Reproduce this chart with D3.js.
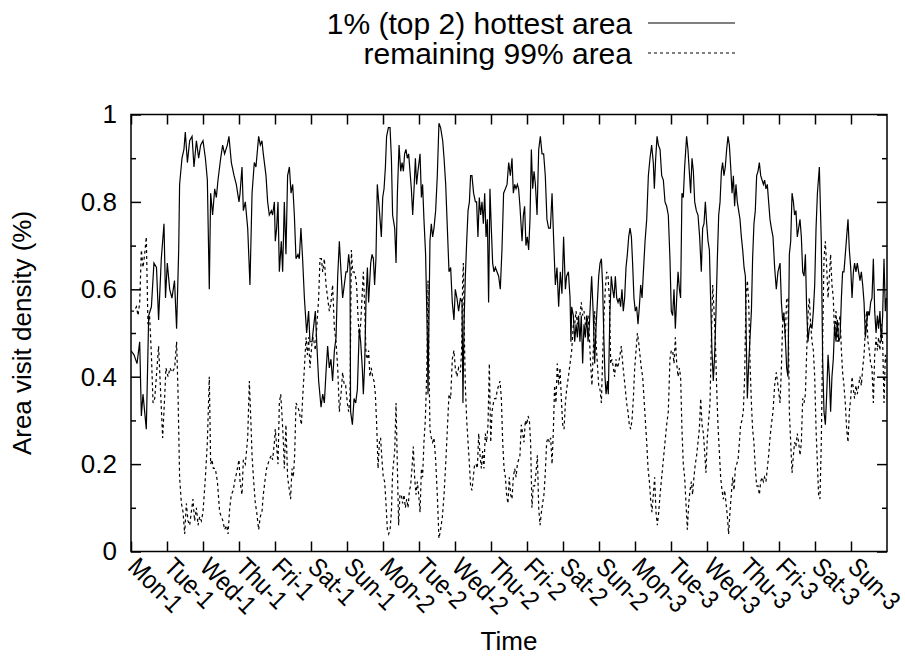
<!DOCTYPE html>
<html>
<head>
<meta charset="utf-8">
<script src="https://cdn.jsdelivr.net/npm/d3@7"></script>
<style>
  body { margin: 0; background: #fff; }
  svg { display: block; }
  text { font-family: "Liberation Sans", Arial, Helvetica, sans-serif; fill: #000; }
</style>
</head>
<body>
<svg width="905" height="656"></svg>
<script>
// day labels, one per 24 h tick
const dayLabels = ['Mon-1','Tue-1','Wed-1','Thu-1','Fri-1','Sat-1','Sun-1',
  'Mon-2','Tue-2','Wed-2','Thu-2','Fri-2','Sat-2','Sun-2',
  'Mon-3','Tue-3','Wed-3','Thu-3','Fri-3','Sat-3','Sun-3'];
const yTicks = [0, 0.2, 0.4, 0.6, 0.8, 1];
const seriesNames = ['1% (top 2) hottest area', 'remaining 99% area'];

// [hour, density]
const hottest = [
  [0,0.46],[2,0.45],[4,0.43],[5.8,0.48],[6.9,0.31],[8,0.36],[10.2,0.28],[11.8,0.54],[13.6,0.56],[15.3,0.66],[17,0.65],[18.4,0.53],[20.2,0.67],[22,0.75],[23,0.58],
  [24.2,0.66],[25.8,0.60],[27.3,0.58],[29,0.62],[30.4,0.51],[31.8,0.69],[32.4,0.84],[34,0.90],[35.3,0.92],[36.2,0.96],[37.6,0.89],[39.1,0.94],[40.7,0.95],[42,0.88],[43.6,0.94],[45.1,0.90],[46.4,0.93],
  [48,0.94],[49.6,0.90],[50.9,0.85],[52.2,0.60],[53.1,0.82],[54.4,0.77],[55.8,0.83],[56.9,0.81],[58,0.85],[59.8,0.90],[61.1,0.93],[62.4,0.91],[64.2,0.93],[65.3,0.95],[66.9,0.89],[68.7,0.86],[70.2,0.84],
  [72,0.80],[72.7,0.82],[74,0.88],[74.9,0.78],[76.2,0.80],[77.8,0.74],[79.3,0.61],[80.7,0.82],[82.2,0.89],[83.3,0.88],[85.1,0.95],[86.2,0.93],[87.3,0.94],[88.2,0.91],[90,0.86],[91.1,0.80],[92.2,0.77],[93.6,0.78],[94.4,0.77],[95.6,0.80],
  [96.2,0.71],[97.1,0.74],[98,0.80],[98.9,0.64],[100.2,0.71],[101.1,0.64],[102.2,0.80],[103.3,0.68],[104.4,0.86],[105.6,0.88],[106.7,0.82],[107.8,0.84],[108.9,0.77],[110,0.67],[111.3,0.68],[112.2,0.67],[113.3,0.74],[114.4,0.67],[115.6,0.58],[117.1,0.50],[118.4,0.55],[119.3,0.48],
  [120.7,0.48],[121.6,0.51],[122.9,0.55],[123.8,0.48],[125.1,0.39],[126.7,0.33],[127.8,0.36],[128.9,0.34],[130,0.41],[131.1,0.47],[132.2,0.42],[133.3,0.44],[134.4,0.39],[135.6,0.46],[136.7,0.49],[137.8,0.63],[138.9,0.71],[140,0.64],[141.1,0.58],[142.2,0.61],[143.3,0.64],
  [144.2,0.64],[145.1,0.68],[146,0.65],[146.4,0.32],[147.6,0.29],[148.7,0.35],[149.8,0.34],[150.9,0.37],[152.2,0.51],[153.1,0.48],[154.2,0.42],[154.9,0.36],[155.8,0.43],[156.7,0.58],[157.6,0.65],[158.4,0.57],[159.8,0.66],[160.7,0.68],[161.6,0.67],[162.4,0.61],[163.3,0.67],[164.2,0.84],[165.6,0.78],[166.9,0.72],[167.8,0.81],
  [168.7,0.83],[169.6,0.88],[170.4,0.95],[171.6,0.97],[172.7,0.97],[173.6,0.90],[174.4,0.77],[175.8,0.74],[176.7,0.66],[177.6,0.82],[178.7,0.93],[179.8,0.87],[180.7,0.89],[181.6,0.87],[182.4,0.91],[183.3,0.92],[184.2,0.90],[185.1,0.91],[186,0.87],[186.9,0.83],[187.8,0.77],[188.7,0.83],[189.6,0.90],[190.4,0.84],[191.3,0.87],
  [192.7,0.91],[193.6,0.81],[194.4,0.84],[195.3,0.76],[196.4,0.68],[197.6,0.48],[198,0.36],[198.7,0.55],[199.3,0.71],[200.2,0.75],[201.1,0.72],[202,0.74],[203.1,0.78],[204.2,0.86],[205.3,0.98],[206.4,0.97],[207.8,0.94],[208.7,0.90],[209.8,0.84],[210.9,0.74],[212,0.64],[213.1,0.65],[214.2,0.57],[215.3,0.53],
  [216.2,0.60],[217.3,0.58],[218.4,0.55],[219.6,0.58],[220.7,0.57],[221.3,0.34],[222,0.52],[222.9,0.63],[223.8,0.71],[224.7,0.78],[225.6,0.80],[226.4,0.86],[227.3,0.86],[228.4,0.82],[229.6,0.80],[230.4,0.80],[231.3,0.72],[232.2,0.81],[233.1,0.77],[234,0.80],[234.9,0.75],[235.8,0.82],[236.7,0.72],[237.6,0.76],[238.4,0.57],[239.3,0.83],
  [240.2,0.74],[241.1,0.66],[242,0.64],[242.9,0.65],[244,0.64],[245.1,0.63],[246.2,0.60],[247.3,0.69],[248.4,0.82],[249.6,0.83],[250.7,0.84],[251.8,0.89],[252.9,0.86],[254,0.90],[254.9,0.82],[255.8,0.84],[256.7,0.83],[257.6,0.84],[258.4,0.83],[259.3,0.79],[260.7,0.71],[261.6,0.77],[262.4,0.79],[263.3,0.70],
  [264.2,0.72],[265.1,0.69],[266,0.76],[266.9,0.92],[267.8,0.83],[268.7,0.87],[269.6,0.84],[270.7,0.77],[271.8,0.92],[272.9,0.95],[274,0.91],[275.1,0.91],[276.2,0.86],[277.3,0.76],[278.4,0.74],[279.6,0.74],[280.7,0.82],[281.8,0.71],[282.9,0.61],[284,0.65],[285.1,0.56],[286.2,0.64],[287.3,0.59],
  [288.4,0.72],[289.6,0.60],[290.4,0.63],[291.6,0.64],[292.7,0.58],[293.3,0.48],[293.8,0.56],[294.9,0.54],[295.8,0.48],[296.7,0.52],[297.6,0.49],[298.4,0.54],[299.3,0.48],[300.2,0.54],[301.1,0.43],[302,0.52],[302.9,0.49],[303.8,0.54],[304.7,0.48],[305.6,0.52],[306.4,0.58],[307.1,0.63],[308.2,0.54],[309.1,0.43],[310,0.51],[310.9,0.57],[311.8,0.63],
  [312.7,0.66],[313.6,0.67],[314.4,0.61],[315.3,0.48],[316,0.40],[316.7,0.36],[317.6,0.39],[318.2,0.36],[319.3,0.55],[320.2,0.63],[321.1,0.60],[322,0.58],[322.9,0.63],[323.8,0.58],[324.7,0.57],[325.6,0.58],[326.4,0.56],[327.3,0.60],[328.2,0.55],[329.1,0.58],[330,0.65],[330.9,0.68],[331.8,0.72],[332.7,0.74],[333.6,0.72],[334.4,0.66],[335.3,0.58],
  [336.2,0.55],[337.1,0.56],[338,0.52],[338.9,0.56],[339.8,0.61],[340.7,0.58],[341.6,0.64],[342.7,0.71],[343.8,0.76],[344.9,0.86],[346,0.90],[347.1,0.93],[348.2,0.89],[348.9,0.83],[349.8,0.90],[350.7,0.95],[351.6,0.93],[352.7,0.92],[353.8,0.86],[354.9,0.85],[356,0.80],[357.1,0.79],[358.2,0.77],[359.3,0.67],
  [360.2,0.55],[361.1,0.54],[362,0.60],[362.9,0.51],[363.8,0.58],[364.7,0.64],[365.6,0.60],[366.4,0.58],[367.3,0.82],[368.2,0.81],[369.1,0.88],[370.4,0.95],[371.3,0.92],[372.2,0.87],[373.1,0.82],[374,0.90],[374.9,0.87],[375.8,0.80],[376.9,0.78],[378,0.77],[379.1,0.72],[380.2,0.64],[381.1,0.74],[382,0.75],[382.9,0.80],[383.8,0.75],
  [384.7,0.71],[385.6,0.69],[386.4,0.58],[387.3,0.46],[388.2,0.39],[389.1,0.45],[390,0.55],[390.9,0.67],[391.8,0.77],[392.7,0.80],[393.6,0.87],[394.4,0.89],[395.3,0.86],[396.2,0.88],[397.1,0.92],[398,0.95],[398.9,0.93],[399.8,0.88],[400.7,0.82],[401.6,0.86],[402.4,0.79],[403.3,0.84],[404.2,0.80],[405.1,0.78],[406,0.76],[406.9,0.72],[407.8,0.69],
  [408.7,0.65],[409.6,0.63],[410.2,0.48],[410.9,0.35],[411.8,0.43],[412.7,0.49],[413.6,0.55],[414.4,0.67],[415.3,0.75],[416.2,0.78],[417.1,0.86],[418,0.87],[418.9,0.89],[419.8,0.86],[420.7,0.85],[421.6,0.84],[422.4,0.85],[423.3,0.83],[424.2,0.84],[425.1,0.80],[426,0.76],[426.9,0.74],[428,0.72],[429.1,0.65],[430.2,0.60],[431.3,0.64],
  [432.7,0.66],[433.6,0.57],[434.4,0.53],[435.3,0.54],[436.2,0.49],[437.1,0.42],[438,0.40],[438.9,0.68],[439.8,0.71],[440.7,0.82],[441.6,0.80],[442.4,0.77],[443.3,0.78],[444.2,0.72],[445.1,0.74],[446,0.76],[446.9,0.72],[447.8,0.64],[448.7,0.63],[449.6,0.68],[450.4,0.56],[451.3,0.48],[452.2,0.51],[453.1,0.52],[454,0.51],[454.9,0.55],[455.8,0.61],
  [456.7,0.74],[457.6,0.82],[458.9,0.88],[460.2,0.71],[461.1,0.44],[462,0.32],[462.9,0.29],[463.8,0.36],[464.7,0.45],[465.6,0.40],[466.4,0.32],[467.3,0.40],[468.2,0.44],[469.1,0.52],[470,0.48],[470.9,0.53],[471.8,0.48],[472.7,0.49],[473.6,0.58],[474.4,0.64],[475.3,0.64],[476.2,0.68],[477.1,0.72],[478,0.76],[478.9,0.69],[479.8,0.65],
  [480.7,0.58],[481.6,0.64],[482.4,0.66],[483.3,0.64],[484.2,0.66],[485.1,0.64],[486,0.62],[486.9,0.64],[487.8,0.61],[488.7,0.57],[489.6,0.49],[490.4,0.52],[491.3,0.55],[492.2,0.54],[493.1,0.57],[494,0.58],[494.9,0.67],[495.8,0.55],[496.7,0.50],[497.6,0.54],[498.4,0.51],[499.3,0.55],[500.2,0.48],[501.1,0.54],[502,0.67],[502.9,0.55],[503.6,0.58]
];

const remaining = [
  [0,0.55],[2,0.55],[3.6,0.56],[4.7,0.54],[5.8,0.57],[6.9,0.69],[8,0.65],[9.1,0.68],[10.2,0.72],[11.3,0.52],[12.4,0.54],[13.6,0.45],[14.7,0.34],[15.8,0.35],[16.9,0.40],[18.4,0.47],[19.8,0.36],[21.1,0.26],[22.4,0.35],[23.3,0.42],
  [24.7,0.40],[26,0.42],[27.3,0.41],[29.1,0.42],[30.4,0.48],[31.3,0.37],[32.4,0.17],[33.6,0.11],[34.7,0.09],[35.8,0.04],[36.9,0.11],[38,0.07],[39.1,0.06],[40.2,0.09],[41.3,0.12],[42.4,0.07],[43.6,0.10],[44.7,0.06],[45.8,0.08],[46.9,0.07],
  [48,0.09],[49.6,0.17],[50.9,0.25],[52.2,0.40],[53.1,0.20],[54,0.21],[54.9,0.19],[56.2,0.19],[57.6,0.16],[59.1,0.09],[60.2,0.08],[61.3,0.07],[62.4,0.05],[63.8,0.06],[64.7,0.04],[65.8,0.10],[66.9,0.13],[68.2,0.14],[69.1,0.16],[70.4,0.18],
  [72,0.21],[72.7,0.16],[74,0.13],[74.9,0.21],[76.2,0.20],[77.8,0.26],[78.9,0.39],[80,0.29],[80.7,0.22],[81.6,0.17],[82.9,0.11],[83.8,0.09],[85.1,0.05],[86.2,0.08],[87.3,0.09],[88.2,0.13],[89.6,0.17],[90.4,0.19],[91.3,0.20],[92.2,0.21],[93.6,0.22],[94.4,0.21],[95.6,0.25],
  [96.2,0.28],[97.1,0.24],[98,0.20],[98.9,0.34],[99.8,0.36],[100.7,0.31],[101.6,0.25],[102.2,0.19],[103.3,0.29],[104.4,0.17],[105.6,0.14],[106.4,0.12],[107.3,0.19],[108.2,0.17],[109.1,0.22],[110,0.34],[111.3,0.33],[112.2,0.32],[113.6,0.29],[114.4,0.35],[115.6,0.42],[116.7,0.49],[117.6,0.45],[118.4,0.49],[119.3,0.42],
  [120.7,0.48],[121.6,0.49],[122.9,0.46],[123.8,0.51],[125.1,0.58],[126,0.67],[126.9,0.67],[127.8,0.64],[128.9,0.67],[130,0.61],[131.1,0.58],[132.2,0.55],[133.3,0.57],[134.4,0.61],[135.6,0.51],[136.7,0.48],[137.8,0.42],[138.9,0.32],[140,0.36],[141.1,0.41],[142.2,0.38],[143.1,0.38],
  [144.2,0.34],[145.1,0.32],[146,0.35],[146.9,0.69],[147.8,0.64],[148.7,0.64],[149.6,0.63],[150.4,0.61],[151.3,0.54],[152.2,0.49],[153.1,0.52],[154,0.58],[154.9,0.64],[155.8,0.56],[156.7,0.45],[157.6,0.44],[158.4,0.46],[159.3,0.40],[160.2,0.42],[161.1,0.40],[162,0.39],[162.9,0.36],[163.8,0.29],[164.7,0.19],[165.6,0.25],[166.4,0.26],[167.3,0.21],
  [168.2,0.17],[169.1,0.16],[170,0.11],[170.9,0.05],[171.8,0.04],[172.7,0.05],[173.6,0.09],[174.4,0.18],[175.8,0.23],[176.7,0.34],[177.6,0.19],[178.4,0.06],[179.3,0.13],[180.2,0.13],[181.1,0.11],[182,0.13],[182.9,0.10],[183.8,0.12],[184.7,0.10],[185.6,0.14],[186.4,0.15],[187.3,0.19],[188.2,0.24],[189.1,0.17],[190,0.13],[190.9,0.16],[191.8,0.13],
  [192.7,0.09],[193.6,0.19],[194.4,0.17],[195.3,0.25],[196.2,0.30],[197.1,0.40],[197.6,0.50],[198,0.62],[198.7,0.42],[199.3,0.28],[200.2,0.26],[201.1,0.25],[202,0.26],[203.1,0.21],[204.2,0.13],[205.3,0.03],[206.4,0.05],[207.6,0.08],[208.7,0.13],[209.8,0.20],[210.9,0.28],[212,0.36],[213.1,0.35],[214.2,0.44],[215.3,0.46],
  [216.2,0.42],[217.3,0.40],[218.4,0.42],[219.6,0.41],[220.4,0.46],[221.1,0.62],[221.6,0.66],[222.2,0.50],[222.9,0.38],[223.8,0.30],[224.7,0.25],[225.6,0.20],[226.4,0.15],[227.3,0.14],[228.2,0.17],[229.1,0.20],[230,0.20],[230.9,0.19],[231.8,0.27],[232.7,0.22],[233.6,0.19],[234.4,0.23],[235.3,0.19],[236.2,0.27],[237.1,0.25],[238,0.29],[238.9,0.43],[239.8,0.25],
  [240.7,0.32],[241.6,0.34],[242.4,0.35],[243.3,0.35],[244.2,0.37],[245.1,0.38],[246,0.39],[246.9,0.35],[247.8,0.25],[248.7,0.19],[249.6,0.17],[250.4,0.13],[251.3,0.11],[252.2,0.17],[253.1,0.13],[254,0.12],[254.9,0.17],[255.8,0.19],[256.7,0.17],[257.6,0.20],[258.4,0.21],[259.3,0.22],[260.2,0.29],[261.1,0.27],[262,0.25],[262.9,0.30],[263.8,0.29],
  [264.7,0.31],[265.6,0.30],[266.4,0.25],[267.3,0.10],[268.2,0.15],[269.1,0.15],[270,0.18],[270.9,0.22],[271.8,0.10],[272.7,0.06],[273.6,0.09],[274.4,0.11],[275.3,0.13],[276.2,0.18],[277.1,0.25],[278,0.26],[278.9,0.25],[279.8,0.26],[280.7,0.20],[281.6,0.28],[282.4,0.38],[283.3,0.34],[284.2,0.43],[285.1,0.38],[286,0.42],[286.9,0.35],[287.8,0.29],
  [288.7,0.28],[289.6,0.34],[290.4,0.37],[291.6,0.40],[292.7,0.43],[293.8,0.46],[294.9,0.52],[295.8,0.52],[296.7,0.55],[297.6,0.52],[298.4,0.54],[299.3,0.54],[300.2,0.57],[301.1,0.54],[302,0.55],[302.9,0.52],[303.8,0.52],[304.7,0.54],[305.6,0.49],[306.4,0.43],[307.3,0.38],[308.2,0.46],[309.1,0.55],[310,0.48],[310.9,0.43],[311.8,0.38],
  [312.7,0.37],[313.6,0.34],[314.4,0.44],[315.3,0.54],[316.2,0.60],[317.1,0.64],[318,0.63],[318.9,0.58],[319.8,0.43],[320.7,0.44],[321.6,0.42],[322.4,0.40],[323.3,0.44],[324.2,0.42],[325.1,0.43],[326,0.45],[326.9,0.47],[327.8,0.43],[328.7,0.40],[329.6,0.37],[330.4,0.34],[331.3,0.32],[332.2,0.29],[333.1,0.28],[334,0.30],[334.9,0.35],[335.8,0.42],
  [336.7,0.46],[337.6,0.50],[338.4,0.48],[339.3,0.45],[340.2,0.42],[341.1,0.40],[342,0.35],[342.9,0.30],[343.8,0.25],[344.7,0.19],[345.6,0.16],[346.4,0.12],[347.3,0.09],[348.2,0.13],[349.1,0.17],[350,0.09],[350.9,0.06],[351.8,0.09],[352.7,0.13],[353.8,0.17],[354.9,0.21],[356,0.25],[357.1,0.29],[358.2,0.32],[359.3,0.44],
  [360.2,0.46],[361.1,0.46],[362,0.43],[362.9,0.49],[363.8,0.43],[364.7,0.40],[365.6,0.42],[366.4,0.40],[367.3,0.28],[368.2,0.20],[369.1,0.17],[370,0.11],[370.9,0.05],[371.8,0.11],[372.7,0.14],[373.6,0.16],[374.4,0.13],[375.3,0.17],[376.2,0.20],[377.1,0.22],[378,0.25],[378.9,0.28],[379.8,0.35],[380.7,0.29],[381.6,0.27],[382.4,0.23],[383.3,0.18],
  [384.2,0.26],[385.1,0.30],[386,0.34],[386.9,0.48],[387.8,0.61],[388.7,0.55],[389.6,0.48],[390.4,0.38],[391.3,0.29],[392.2,0.23],[393.1,0.17],[394,0.14],[394.9,0.12],[395.8,0.14],[396.7,0.11],[397.6,0.08],[398.4,0.04],[399.3,0.09],[400.2,0.13],[401.1,0.17],[402,0.14],[402.9,0.19],[403.8,0.20],[404.7,0.21],[405.6,0.25],[406.4,0.29],[407.3,0.30],
  [408.2,0.32],[409.1,0.40],[410,0.58],[410.9,0.62],[411.8,0.57],[412.7,0.43],[413.6,0.34],[414.4,0.28],[415.3,0.25],[416.2,0.19],[417.1,0.15],[418,0.15],[418.9,0.13],[419.8,0.16],[420.7,0.17],[421.6,0.16],[422.4,0.17],[423.3,0.16],[424.2,0.19],[425.1,0.22],[426,0.26],[426.9,0.29],[428,0.32],[429.1,0.38],[430.2,0.41],[431.3,0.38],
  [432.7,0.34],[433.6,0.42],[434.4,0.52],[435.3,0.55],[436.2,0.49],[437.1,0.58],[438,0.58],[438.9,0.32],[439.8,0.25],[440.7,0.18],[441.6,0.22],[442.4,0.25],[443.3,0.24],[444.2,0.27],[445.1,0.25],[446,0.22],[446.9,0.25],[447.8,0.35],[448.7,0.34],[449.6,0.36],[450.4,0.45],[451.3,0.54],[452.2,0.58],[453.1,0.52],[454,0.48],[454.9,0.46],[455.8,0.40],
  [456.7,0.28],[457.6,0.20],[458.4,0.13],[459.3,0.12],[460.2,0.25],[461.1,0.48],[462,0.67],[462.9,0.71],[463.8,0.65],[464.7,0.58],[465.6,0.63],[466.4,0.68],[467.3,0.61],[468.2,0.58],[469.1,0.49],[470,0.55],[470.9,0.48],[471.8,0.52],[472.7,0.54],[473.6,0.46],[474.4,0.41],[475.3,0.38],[476.2,0.34],[477.1,0.28],[478,0.25],[478.9,0.32],[479.8,0.35],
  [480.7,0.40],[481.6,0.37],[482.4,0.35],[483.3,0.38],[484.2,0.36],[485.1,0.38],[486,0.40],[486.9,0.38],[487.8,0.42],[488.7,0.45],[489.6,0.51],[490.4,0.55],[491.3,0.48],[492.2,0.46],[493.1,0.43],[494,0.42],[494.9,0.34],[495.8,0.45],[496.7,0.49],[497.6,0.46],[498.4,0.49],[499.3,0.46],[500.2,0.52],[501.1,0.48],[502,0.34],[502.9,0.45],[503.6,0.43]
];

(function (d3) {
  'use strict';

  const svg = d3.select('svg');
  const margin = { top: 114.5, right: 18, bottom: 104.5, left: 131 };
  const width = +svg.attr('width');
  const height = +svg.attr('height');
  const innerWidth = width - margin.left - margin.right;
  const innerHeight = height - margin.top - margin.bottom;

  const xScale = d3.scaleLinear()
    .domain([0, dayLabels.length * 24])
    .range([0, innerWidth]);

  const yScale = d3.scaleLinear()
    .domain([0, 1])
    .range([innerHeight, 0]);

  const g = svg.append('g')
    .attr('transform', `translate(${margin.left},${margin.top})`);

  g.append('clipPath').attr('id', 'plot-clip')
    .append('rect').attr('width', innerWidth).attr('height', innerHeight);

  const dayTicks = dayLabels.map((d, i) => i * 24);
  const minorY = d3.range(1, 10, 2).map(v => v / 10);

  // x axis: inward ticks on both edges, rotated labels below
  const xAxisG = g.append('g')
    .attr('transform', `translate(0,${innerHeight})`)
    .call(d3.axisBottom(xScale).tickValues(dayTicks).tickSize(-10).tickFormat(''));
  xAxisG.select('.domain').remove();

  g.append('g')
    .call(d3.axisTop(xScale).tickValues(dayTicks).tickSize(-10).tickFormat(''))
    .select('.domain').remove();

  xAxisG.selectAll('.tick').append('text')
    .attr('transform', 'translate(-5,17) rotate(45) scale(0.88,1)')
    .attr('text-anchor', 'start')
    .attr('font-size', 26)
    .text((d, i) => dayLabels[i]);

  // y axis
  const yAxisG = g.append('g')
    .call(d3.axisLeft(yScale).tickValues(yTicks).tickSize(-10).tickPadding(14)
      .tickFormat(d3.format('~g')));
  yAxisG.select('.domain').remove();
  yAxisG.selectAll('text').attr('font-size', 26).attr('font-family', null);

  g.append('g')
    .call(d3.axisLeft(yScale).tickValues(minorY).tickSize(-5).tickFormat(''))
    .select('.domain').remove();

  g.append('g').attr('transform', `translate(${innerWidth},0)`)
    .call(d3.axisRight(yScale).tickValues(yTicks).tickSize(-10).tickFormat(''))
    .select('.domain').remove();
  g.append('g').attr('transform', `translate(${innerWidth},0)`)
    .call(d3.axisRight(yScale).tickValues(minorY).tickSize(-5).tickFormat(''))
    .select('.domain').remove();

  g.selectAll('.tick line').attr('stroke', '#000').attr('stroke-width', 1.5);

  // lines
  const line = d3.line()
    .x(d => xScale(d[0]))
    .y(d => yScale(d[1]));

  const plot = g.append('g').attr('clip-path', 'url(#plot-clip)');
  plot.append('path')
    .datum(remaining)
    .attr('fill', 'none')
    .attr('stroke', '#000')
    .attr('stroke-width', 1.2)
    .attr('stroke-dasharray', '3,3')
    .attr('d', line);
  plot.append('path')
    .datum(hottest)
    .attr('fill', 'none')
    .attr('stroke', '#000')
    .attr('stroke-width', 1.2)
    .attr('d', line);

  // frame
  g.append('rect')
    .attr('width', innerWidth)
    .attr('height', innerHeight)
    .attr('fill', 'none')
    .attr('stroke', '#000')
    .attr('stroke-width', 1.5);

  // axis labels
  svg.append('text')
    .attr('transform', `translate(31,${margin.top + innerHeight / 2}) rotate(-90)`)
    .attr('text-anchor', 'middle')
    .attr('font-size', 26)
    .text('Area visit density (%)');

  svg.append('text')
    .attr('x', margin.left + innerWidth / 2)
    .attr('y', 650)
    .attr('text-anchor', 'middle')
    .attr('font-size', 26)
    .text('Time');

  // legend
  const legend = svg.append('g').attr('transform', 'translate(632,0)');
  const rows = legend.selectAll('g').data(seriesNames).enter().append('g')
    .attr('transform', (d, i) => `translate(0,${23 + i * 30})`);
  rows.append('text')
    .attr('x', 0)
    .attr('dy', '0.35em')
    .attr('text-anchor', 'end')
    .attr('font-size', 30)
    .text(d => d);
  rows.append('line')
    .attr('x1', 16).attr('x2', 103)
    .attr('stroke', '#000')
    .attr('stroke-width', 1.2)
    .attr('stroke-dasharray', (d, i) => i === 0 ? null : '3,3');

}(d3));
</script>
</body>
</html>
